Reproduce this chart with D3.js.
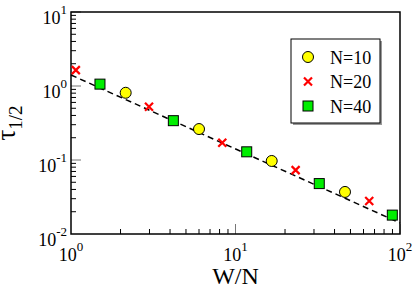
<!DOCTYPE html>
<html>
<head>
<meta charset="utf-8">
<script src="https://cdn.jsdelivr.net/npm/d3@7"></script>
<style>
  body { margin: 0; background: #fff; }
</style>
</head>
<body>
<script>
// data
var n10x = [2.15, 6.0, 16.6, 46.3],
    n10y = [0.81, 0.262, 0.097, 0.037];
var n20x = [1.07, 2.98, 8.31, 23.2, 65.0],
    n20y = [1.64, 0.525, 0.171, 0.073, 0.0279];
var n40x = [1.50, 4.19, 11.7, 32.3, 89.8],
    n40y = [1.06, 0.34, 0.129, 0.048, 0.018];
var fitX = [1, 100],
    fitY = [1.41, 0.0141];
var xDecades = [0, 1, 2],
    yDecades = [-2, -1, 0, 1];
var legendLabels = ["N=10", "N=20", "N=40"];

var W = 415, H = 288;
var margin = {top: 12, left: 71, right: 15, bottom: 54};
var width = W - margin.left - margin.right,
    height = H - margin.top - margin.bottom;
var serif = "Liberation Serif";

var svg = d3.select("body").append("svg")
    .attr("width", W).attr("height", H);
var g = svg.append("g")
    .attr("transform", "translate(" + margin.left + "," + margin.top + ")");

var x = d3.scaleLog().domain([1, 100]).range([0, width]);
var y = d3.scaleLog().domain([0.01, 10]).range([height, 0]);

// Minor / major ticks (inward)
var xTicks = x.ticks().filter(function(d) { return d > 1 && d <= 100; });
var yTicks = y.ticks().filter(function(d) { return d > 0.01 && d <= 10; });
function isMajor(v) { return Math.abs(Math.log10(v) - Math.round(Math.log10(v))) < 1e-6; }

g.selectAll("line.xt").data(xTicks).enter().append("line")
    .attr("x1", function(d) { return x(d); }).attr("x2", function(d) { return x(d); })
    .attr("y1", height).attr("y2", function(d) { return height - (isMajor(d) ? 10 : 5); })
    .attr("stroke", function(d) { return isMajor(d) ? "#777" : "#000"; })
    .attr("stroke-width", 1);
g.selectAll("line.yt").data(yTicks).enter().append("line")
    .attr("y1", function(d) { return y(d); }).attr("y2", function(d) { return y(d); })
    .attr("x1", 0).attr("x2", function(d) { return isMajor(d) ? 10 : 5; })
    .attr("stroke", function(d) { return isMajor(d) ? "#777" : "#000"; })
    .attr("stroke-width", 1);

// frame
g.append("rect").attr("width", width).attr("height", height)
    .attr("fill", "none").attr("stroke", "#000").attr("stroke-width", 1.5);

// tick labels
g.selectAll("text.xl").data(xDecades).enter().append("text")
    .attr("x", function(d) { return x(Math.pow(10, d)); })
    .attr("y", height + 27)
    .attr("text-anchor", "middle")
    .attr("font-family", serif)
    .attr("font-size", 18)
    .each(function(d) {
      var t = d3.select(this);
      t.append("tspan").text("10");
      t.append("tspan").attr("dy", -10).attr("font-size", 13).text(d);
    });
g.selectAll("text.yl").data(yDecades).enter().append("text")
    .attr("x", -4)
    .attr("y", function(d) { return y(Math.pow(10, d)) + 12; })
    .attr("text-anchor", "end")
    .attr("font-family", serif)
    .attr("font-size", 18)
    .each(function(d) {
      var t = d3.select(this);
      t.append("tspan").text("10");
      t.append("tspan").attr("dy", -10).attr("font-size", 13).text(d < 0 ? "-" + (-d) : d);
    });

// axis titles
svg.append("text")
    .attr("x", margin.left + width / 2).attr("y", 284)
    .attr("text-anchor", "middle")
    .attr("font-family", serif)
    .attr("font-size", 24)
    .text("W/N");
var yt = svg.append("text")
    .attr("transform", "translate(15," + (margin.top + height / 2) + ")rotate(-90)")
    .attr("text-anchor", "middle")
    .attr("font-family", serif)
    .attr("font-size", 27);
yt.append("tspan").text("τ");
yt.append("tspan").attr("dy", 7).attr("font-size", 19).text("1/2");

// fit line
g.append("line")
    .attr("x1", x(fitX[0])).attr("y1", y(fitY[0]))
    .attr("x2", x(fitX[1])).attr("y2", y(fitY[1]))
    .attr("stroke", "#000").attr("stroke-width", 1.5)
    .attr("stroke-dasharray", "6,4");

// markers
function circle(sel, cx, cy) {
  sel.append("circle").attr("cx", cx).attr("cy", cy).attr("r", 5.5)
    .attr("fill", "#ffff00").attr("stroke", "#000").attr("stroke-width", 1);
}
function cross(sel, cx, cy) {
  var s = 4;
  sel.append("path")
    .attr("d", "M" + (cx - s) + "," + (cy - s) + "L" + (cx + s) + "," + (cy + s) +
               "M" + (cx - s) + "," + (cy + s) + "L" + (cx + s) + "," + (cy - s))
    .attr("stroke", "#ff0000").attr("stroke-width", 2.2).attr("fill", "none");
}
function square(sel, cx, cy) {
  sel.append("rect").attr("x", cx - 5).attr("y", cy - 5).attr("width", 10).attr("height", 10)
    .attr("fill", "#00ee00").attr("stroke", "#000").attr("stroke-width", 1);
}
n10x.forEach(function(v, i) { circle(g, x(v), y(n10y[i])); });
n20x.forEach(function(v, i) { cross(g, x(v), y(n20y[i])); });
n40x.forEach(function(v, i) { square(g, x(v), y(n40y[i])); });

// legend
var lg = svg.append("g").attr("transform", "translate(291,39)");
lg.append("rect").attr("x", 2).attr("y", 2).attr("width", 89).attr("height", 84)
    .attr("fill", "#999");
lg.append("rect").attr("width", 89).attr("height", 84)
    .attr("fill", "#fff").attr("stroke", "#000").attr("stroke-width", 1);
var drawers = [circle, cross, square];
legendLabels.forEach(function(lab, i) {
  var cy = 18 + i * 24.5;
  drawers[i](lg, 17, cy);
  lg.append("text").attr("x", 39).attr("y", cy + 6.5)
    .attr("font-family", serif)
    .attr("font-size", 18).text(lab);
});
</script>
</body>
</html>
